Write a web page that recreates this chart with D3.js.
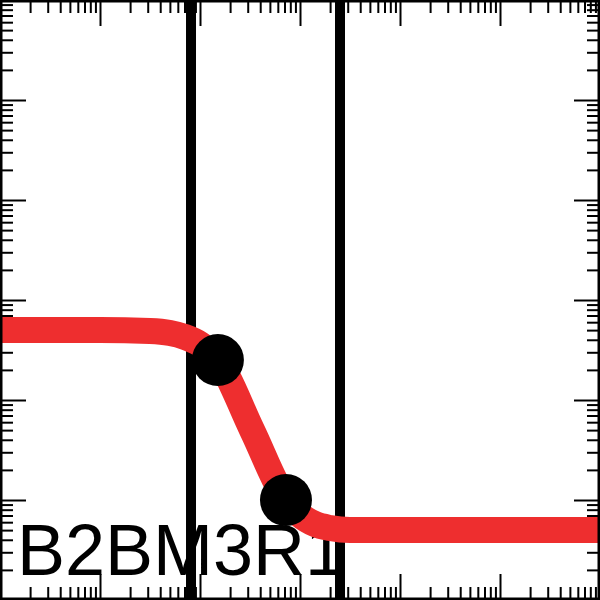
<!DOCTYPE html>
<html>
<head>
<meta charset="utf-8">
<script src="https://cdn.jsdelivr.net/npm/d3@7"></script>
<style>
  html, body { margin: 0; padding: 0; background: #fff; }
  svg { display: block; }
</style>
</head>
<body>
<svg id="chart" width="600" height="600"></svg>
<script>
// ---- data (log-log) ----
const curveX = [1, 10, 31.6, 50.1, 70.8, 100, 151.4, 331, 724.4, 1000, 1412.5, 1995, 3162, 10000, 1000000];
const curveY = [501, 501, 490, 468, 427, 363, 251, 50.1, 10, 7.08, 5.75, 5.25, 5.01, 5.01, 5.01];
const pointX = [151, 724];
const pointY = [251, 10];
const vlineX = [81.3, 2512];
const xDomain = [1, 1e6];
const yDomain = [1, 1e6];
const label = "B2BM3R1";

const W = 600, H = 600;
const svg = d3.select("#chart");
const x = d3.scaleLog().domain(xDomain).range([0, W]);
const y = d3.scaleLog().domain(yDomain).range([H, 0]);

svg.append("rect").attr("width", W).attr("height", H).attr("fill", "#fff");

// ticks
const isMajor = v => Math.abs(Math.log10(v) - Math.round(Math.log10(v))) < 1e-9;
const xt = x.ticks(), yt = y.ticks();
const xMaj = xt.filter(isMajor), xMin = xt.filter(v => !isMajor(v));
const yMaj = yt.filter(isMajor), yMin = yt.filter(v => !isMajor(v));

function addAxis(axisFn, scale, vals, size, transform) {
  const g = svg.append("g").attr("transform", transform)
    .call(axisFn(scale).tickValues(vals).tickSize(size).tickFormat(""));
  g.select(".domain").remove();
  g.selectAll("line").attr("stroke", "#000").attr("stroke-width", 2);
}
const MAJ = 26, MIN = 13;
addAxis(d3.axisBottom, x, xMaj, -MAJ, `translate(0,${H})`);
addAxis(d3.axisBottom, x, xMin, -MIN, `translate(0,${H})`);
addAxis(d3.axisTop, x, xMaj, -MAJ, `translate(0,0)`);
addAxis(d3.axisTop, x, xMin, -MIN, `translate(0,0)`);
addAxis(d3.axisLeft, y, yMaj, -MAJ, `translate(0,0)`);
addAxis(d3.axisLeft, y, yMin, -MIN, `translate(0,0)`);
addAxis(d3.axisRight, y, yMaj, -MAJ, `translate(${W},0)`);
addAxis(d3.axisRight, y, yMin, -MIN, `translate(${W},0)`);

// label
svg.append("text").attr("x", 17).attr("y", 575)
  .attr("font-family", "'Liberation Sans', Arial, Helvetica, sans-serif")
  .attr("font-size", 72).attr("fill", "#000").text(label);

// vertical lines
svg.selectAll("line.v").data(vlineX).enter().append("line")
  .attr("class", "v")
  .attr("x1", d => x(d)).attr("x2", d => x(d))
  .attr("y1", 0).attr("y2", H)
  .attr("stroke", "#000").attr("stroke-width", 10);

// curve
const pts = curveX.map((d, i) => [d, curveY[i]]);
svg.append("path").datum(pts)
  .attr("d", d3.line().x(d => x(d[0])).y(d => y(d[1])).curve(d3.curveMonotoneX))
  .attr("fill", "none").attr("stroke", "#ee2e2f").attr("stroke-width", 26);

// points
svg.selectAll("circle").data(pointX).enter().append("circle")
  .attr("cx", d => x(d)).attr("cy", (d, i) => y(pointY[i]))
  .attr("r", 26).attr("fill", "#000");

// frame
svg.append("rect").attr("x", 0).attr("y", 0).attr("width", W).attr("height", H)
  .attr("fill", "none").attr("stroke", "#000").attr("stroke-width", 5);
</script>
</body>
</html>
